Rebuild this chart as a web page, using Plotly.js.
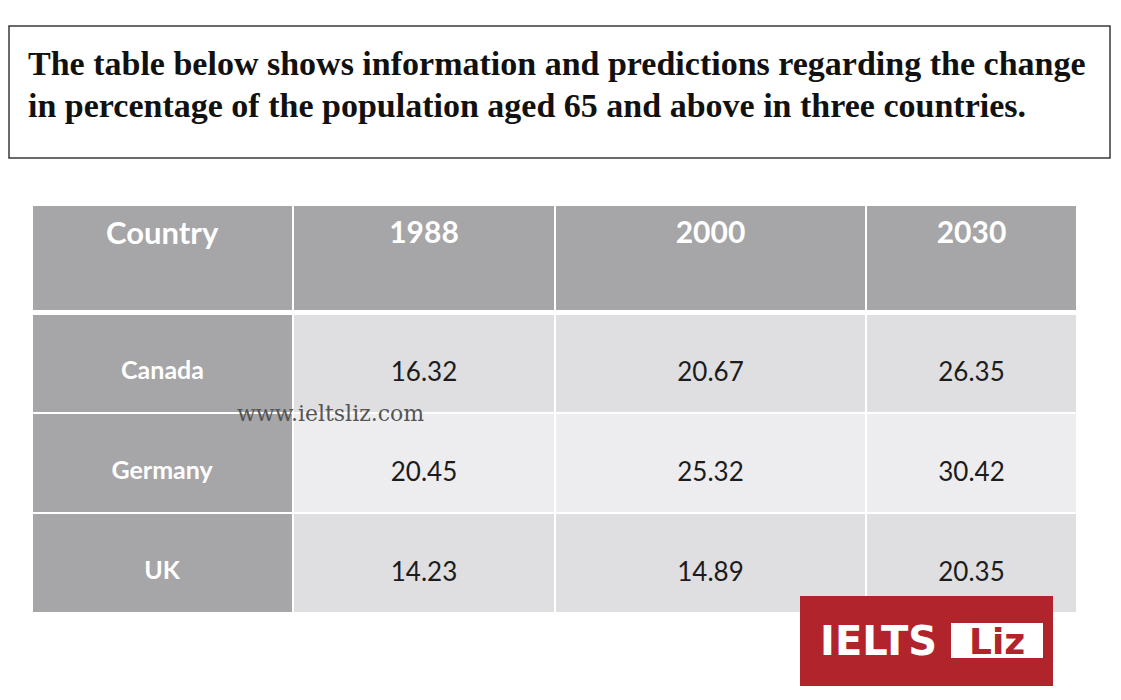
<!DOCTYPE html>
<html>
<head>
<meta charset="utf-8">
<script src="https://cdn.plot.ly/plotly-3.0.1.min.js"></script>
<style>html,body{margin:0;padding:0;background:#fff;}#chart{width:1121px;height:700px;}</style>
</head>
<body>
<div id="chart"></div>
<script>
// ---- data ----
const headerLabels = ['Country', '1988', '2000', '2030'];
const countries = ['Canada', 'Germany', 'UK'];
const values1988 = [16.32, 20.45, 14.23];
const values2000 = [20.67, 25.32, 14.89];
const values2030 = [26.35, 30.42, 20.35];
const titleLines = [
  'The table below shows information and predictions regarding the change',
  'in percentage of the population aged 65 and above in three countries.'
];
const watermark = 'www.ieltsliz.com';

// ---- styles ----
const W = 1121, H = 700;
const px = x => x / W;
const py = y => 1 - y / H;
const gray = '#a6a5a7';
const lightA = '#dfdfe1';
const lightB = '#ededef';
const pad = '\u00a0<br>';

const fmt = v => pad + v.toFixed(2);
const cellValues = [
  countries.map(c => pad + '<b>' + c + '</b>'),
  values1988.map(fmt),
  values2000.map(fmt),
  values2030.map(fmt)
];
const rowFill = countries.map((_, i) => (i % 2 === 0 ? lightA : lightB));
const cellFills = [countries.map(() => gray), rowFill, rowFill, rowFill];

const trace = {
  type: 'table',
  domain: {x: [px(32), px(1077)], y: [0.1, py(205)]},
  columnwidth: [261, 262, 311, 211],
  header: {
    values: headerLabels.map(h => '<b>' + h + '</b>'),
    align: 'center',
    height: 108,
    fill: {color: gray},
    line: {color: '#ffffff', width: 2},
    font: {family: 'Lato, sans-serif', size: [31, 30, 30, 30], color: '#ffffff'}
  },
  cells: {
    values: cellValues,
    align: 'center',
    height: 100,
    fill: {color: cellFills},
    line: {color: '#ffffff', width: 2},
    font: {
      family: 'Lato, sans-serif',
      size: [25, 26, 26, 26],
      color: ['#ffffff', '#1c1c1c', '#1c1c1c', '#1c1c1c']
    }
  }
};

const titleFont = {family: 'Liberation Serif, serif', size: 34, color: '#111111'};

const layout = {
  width: W, height: H,
  margin: {l: 0, r: 0, t: 0, b: 0},
  paper_bgcolor: '#ffffff',
  shapes: [
    {type: 'rect', xref: 'paper', yref: 'paper', x0: px(9), x1: px(1110), y0: py(26), y1: py(158),
     line: {color: '#3a3a3a', width: 1.5}, fillcolor: 'rgba(0,0,0,0)'},
    {type: 'rect', xref: 'paper', yref: 'paper', x0: px(30), x1: px(1079), y0: py(310), y1: py(315),
     line: {width: 0}, fillcolor: '#ffffff', layer: 'above'},
    {type: 'rect', xref: 'paper', yref: 'paper', x0: px(800), x1: px(1053), y0: py(596), y1: py(686),
     line: {width: 0}, fillcolor: '#b1242b', layer: 'above'},
    {type: 'rect', xref: 'paper', yref: 'paper', x0: px(951), x1: px(1043), y0: py(623), y1: py(658),
     line: {width: 0}, fillcolor: '#ffffff', layer: 'above'}
  ],
  annotations: [
    {text: '<b>' + titleLines[0] + '</b>', xref: 'paper', yref: 'paper', x: px(26), y: py(64),
     xanchor: 'left', yanchor: 'middle', showarrow: false, font: titleFont},
    {text: '<b>' + titleLines[1] + '</b>', xref: 'paper', yref: 'paper', x: px(26), y: py(105),
     xanchor: 'left', yanchor: 'middle', showarrow: false, font: titleFont},
    {text: watermark, xref: 'paper', yref: 'paper', x: px(330), y: py(413), xanchor: 'center', yanchor: 'middle',
     showarrow: false, font: {family: 'DejaVu Serif, serif', size: 22, color: '#555555'}},
    {text: '<b>IELTS</b>', xref: 'paper', yref: 'paper', x: px(878), y: py(641), xanchor: 'center', yanchor: 'middle',
     showarrow: false, font: {family: 'DejaVu Sans, sans-serif', size: 40, color: '#ffffff'}},
    {text: '<b>Liz</b>', xref: 'paper', yref: 'paper', x: px(997), y: py(641), xanchor: 'center', yanchor: 'middle',
     showarrow: false, font: {family: 'DejaVu Sans, sans-serif', size: 36, color: '#b1242b'}}
  ]
};

Plotly.newPlot('chart', [trace], layout, {displayModeBar: false, staticPlot: true});
</script>
</body>
</html>
